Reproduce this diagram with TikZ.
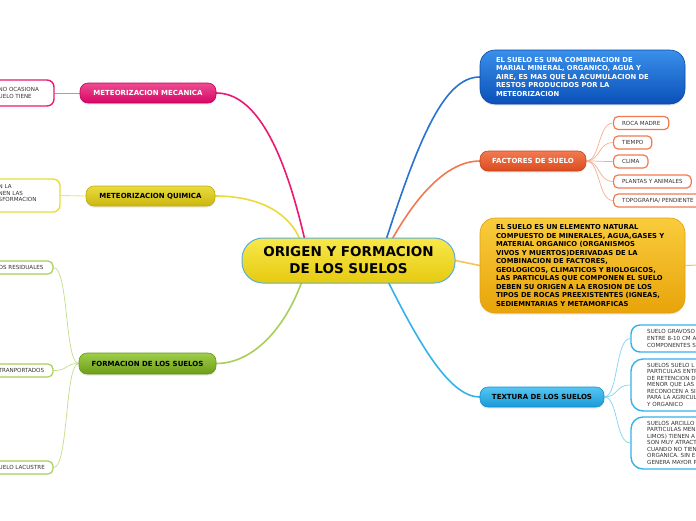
\documentclass[tikz,border=0pt]{standalone}
\usepackage{fontspec}
\setmainfont{DejaVu Sans}
\usetikzlibrary{calc,shadows,backgrounds}
\definecolor{pinkT}{HTML}{EE4C90}\definecolor{pinkB}{HTML}{D60565}\definecolor{pinkD}{HTML}{C8005C}\definecolor{pinkL}{HTML}{EA1A72}
\definecolor{yelT}{HTML}{E8DC40}\definecolor{yelB}{HTML}{CCB60E}\definecolor{yelD}{HTML}{C2AC08}\definecolor{yelL}{HTML}{EADB3C}
\definecolor{grnT}{HTML}{9ECE4A}\definecolor{grnB}{HTML}{6E9E18}\definecolor{grnD}{HTML}{66961A}\definecolor{grnL}{HTML}{A8D058}
\definecolor{bluT}{HTML}{3A90EA}\definecolor{bluB}{HTML}{0A50B8}\definecolor{bluD}{HTML}{0A4AA8}\definecolor{bluL}{HTML}{2A72D2}
\definecolor{orgT}{HTML}{F27A52}\definecolor{orgB}{HTML}{DA4C1E}\definecolor{orgD}{HTML}{C8441A}\definecolor{orgL}{HTML}{F07A50}
\definecolor{ambT}{HTML}{F9CC3C}\definecolor{ambB}{HTML}{E8A40A}\definecolor{ambD}{HTML}{E0A010}\definecolor{ambL}{HTML}{F5C458}
\definecolor{cyaT}{HTML}{56C6F2}\definecolor{cyaB}{HTML}{189AD8}\definecolor{cyaD}{HTML}{1890CC}\definecolor{cyaL}{HTML}{34B2EA}
\definecolor{cenT}{HTML}{F8E84A}\definecolor{cenB}{HTML}{E6CA10}\definecolor{cenD}{HTML}{5CAED8}
\tikzset{
  hub/.style={rounded corners=21pt, draw=cenD, line width=1pt, top color=cenT, bottom color=cenB,
    minimum width=213pt, minimum height=45pt, inner sep=0pt, align=center, text=black,
    font=\fontsize{13.5}{17}\selectfont\bfseries},
  branch/.style={rounded corners=8pt, draw=#1D, line width=0.6pt, top color=#1T, bottom color=#1B,
    minimum height=20pt, inner sep=0pt, font=\fontsize{7}{8}\selectfont\bfseries,
    drop shadow={opacity=0.18, shadow xshift=0pt, shadow yshift=-1.5pt}},
  bigbox/.style={rounded corners=15pt, draw=#1D, line width=0.6pt, top color=#1T, bottom color=#1B,
    minimum width=205pt, inner xsep=16pt, inner ysep=0pt, text width=173pt, align=left,
    font=\fontsize{6.8}{8.5}\selectfont\bfseries,
    drop shadow={opacity=0.18, shadow xshift=0pt, shadow yshift=-1.5pt}},
  leafbox/.style={rounded corners=7pt, draw=#1, line width=1.4pt, fill=white, inner sep=0pt},
  smallleaf/.style={rounded corners=4.5pt, draw=#1, line width=1.2pt, fill=white, inner xsep=8.5pt,
    inner ysep=0pt, minimum height=13pt, anchor=west, font=\fontsize{5.6}{6.5}\selectfont, text=black!80},
  leaftext/.style={font=\fontsize{5.6}{6.8}\selectfont, align=left, inner sep=0pt, anchor=west, text=black!80},
  link/.style={draw=#1, line width=1.6pt, line cap=round},
  twig/.style={draw=#1, line width=0.7pt}
}
\begin{document}
\begin{tikzpicture}[x=1pt,y=-1pt]
\useasboundingbox (0,0) rectangle (696,520);
\clip (0,0) rectangle (696,520);

% hub
\node[hub] (hub) at (348.5,260.5) {ORIGEN Y FORMACION\\DE LOS SUELOS};

% left branches
\node[branch=pink, minimum width=136pt, text=white] (mec) at (148,93) {METEORIZACION MECANICA};
\node[leafbox=pinkL, minimum width=114pt, minimum height=26pt] (mecleaf) at (-3,93) {};
\node[leaftext] (mectext) at (-1.5,93) {NO OCASIONA\\UELO TIENE};

\node[branch=yel, minimum width=129pt, text=black] (qui) at (150.5,196) {METEORIZACION QUIMICA};
\node[leafbox=yelL, minimum width=120pt, minimum height=33pt] (quileaf) at (0,195.5) {};
\node[leaftext] (quitext) at (-1.5,193) {N LA\\NEN LAS\\SFORMACION};

\node[branch=grn, minimum width=137pt, minimum height=21pt, text=black] (for) at (147.5,363.5) {FORMACION DE LOS SUELOS};
\node[leafbox=grnL, rounded corners=5pt, line width=1.2pt, minimum width=113pt, minimum height=13pt] (res) at (-3.5,267.5) {};
\node[leaftext] (restext) at (-1.5,267.5) {OS RESIDUALES};
\node[leafbox=grnL, rounded corners=5pt, line width=1.2pt, minimum width=113pt, minimum height=13pt] (tra) at (-3.5,370.5) {};
\node[leaftext] (tratext) at (-1.5,370.5) {TRANPORTADOS};
\node[leafbox=grnL, rounded corners=5pt, line width=1.2pt, minimum width=113pt, minimum height=13pt] (lac) at (-3.5,467.5) {};
\node[leaftext] (lactext) at (-1.5,467.5) {UELO LACUSTRE};

% right branches
\node[bigbox=blu, minimum height=54pt, text=white] (def) at (582.5,77)
  {EL SUELO ES UNA COMBINACION DE\\MARIAL MINERAL, ORGANICO, AGUA Y\\AIRE, ES MAS QUE LA ACUMULACION DE\\RESTOS PRODUCIDOS POR LA\\METEORIZACION};

\node[branch=org, minimum width=106pt, text=white] (fac) at (533,161) {FACTORES DE SUELO};
\node[smallleaf=orgL] (roca) at (613,123) {ROCA MADRE};
\node[smallleaf=orgL] (tiem) at (613,142.5) {TIEMPO};
\node[smallleaf=orgL] (clim) at (613,161.5) {CLIMA};
\node[smallleaf=orgL] (plan) at (613,181.5) {PLANTAS Y ANIMALES};
\node[smallleaf=orgL] (topo) at (613,200.5) {TOPOGRAFIA/ PENDIENTE};

\node[bigbox=amb, minimum height=95pt, text=black] (ele) at (582.5,265.5)
  {EL SUELO ES UN ELEMENTO NATURAL\\COMPUESTO DE MINERALES, AGUA,GASES Y\\MATERIAL ORGANICO (ORGANISMOS\\VIVOS Y MUERTOS)DERIVADAS DE LA\\COMBINACION DE FACTORES,\\GEOLOGICOS, CLIMATICOS Y BIOLOGICOS,\\LAS PARTICULAS QUE COMPONEN EL SUELO\\DEBEN SU ORIGEN A LA EROSION DE LOS\\TIPOS DE ROCAS PREEXISTENTES (IGNEAS,\\SEDIEMNTARIAS Y METAMORFICAS};
\coordinate (eleout) at (700,265);

\node[branch=cya, minimum width=124pt, text=black] (tex) at (542,397) {TEXTURA DE LOS SUELOS};
\node[leafbox=cyaL, rounded corners=9pt, minimum width=100pt, minimum height=27pt] (grav) at (681,338.5) {};
\node[leaftext] (gravtext) at (647,338.5) {SUELO GRAVOSO\\ENTRE 8-10 CM A\\COMPONENTES S};
\node[leafbox=cyaL, rounded corners=12pt, minimum width=100pt, minimum height=52pt] (lim) at (681,385) {};
\node[leaftext, font=\fontsize{5.6}{6.5}\selectfont] (limtext) at (647,384.5) {SUELOS SUELO L\\PARTICULAS ENTR\\DE RETENCION  D\\MENOR QUE LAS .\\RECONOCEN A SI\\PARA LA AGRICUL\\Y ORGANICO};
\node[leafbox=cyaL, rounded corners=12pt, minimum width=100pt, minimum height=52pt] (arc) at (681,443) {};
\node[leaftext, font=\fontsize{5.6}{6.5}\selectfont] (arctext) at (647,442.5) {SUELOS ARCILLO\\PARTICULAS MEN\\LIMOS) TIENEN A\\SON MUY ATRACT\\CUANDO NO TIEN\\ORGANICA. SIN E\\GENERA MAYOR P};

% connectors
\begin{scope}[on background layer]
\fill[white] (0,0) rectangle (696,520);
\draw[link=pinkL] ($(hub.north)+(-44,1)$) .. controls (284,150) and (256,93) .. (mec.east);
\draw[link=yelL] ($(hub.north)+(-49,1)$) .. controls (286,208) and (252,196) .. (qui.east);
\draw[link=grnL] ($(hub.south)+(-47,-1)$) .. controls (284,330) and (252,363.5) .. (for.east);
\draw[link=bluL] ($(hub.north)+(38,1)$) .. controls (420,135) and (445,77) .. (def.west);
\draw[link=orgL] ($(hub.north)+(44,1)$) .. controls (420,190) and (450,161) .. (fac.west);
\draw[link=ambL] (hub.east) -- (ele.west);
\draw[link=cyaL] ($(hub.south)+(40,-1)$) .. controls (420,345) and (450,397) .. (tex.west);
\draw[twig=ambL, line width=1pt] (ele.east) -- (eleout);
\draw[twig=pinkL!60, line width=0.9pt] (mec.west) -- (mecleaf.east);
\draw[twig=yelL!70, line width=0.9pt] (qui.west) -- (quileaf.east);
\foreach \n in {roca,tiem,clim,plan,topo}
  \draw[twig=orgL!60] (fac.east) .. controls +(14,0) and ($(\n.west)+(-15,0)$) .. (\n.west);
\foreach \n in {grav,lim,arc}
  \draw[twig=cyaL!60] (tex.east) .. controls +(14,0) and ($(\n.west)+(-15,0)$) .. (\n.west);
\foreach \n in {res,tra,lac}
  \draw[twig=grnL!70] (for.west) .. controls +(-14,0) and ($(\n.east)+(15,0)$) .. (\n.east);
\end{scope}
\end{tikzpicture}
\end{document}
